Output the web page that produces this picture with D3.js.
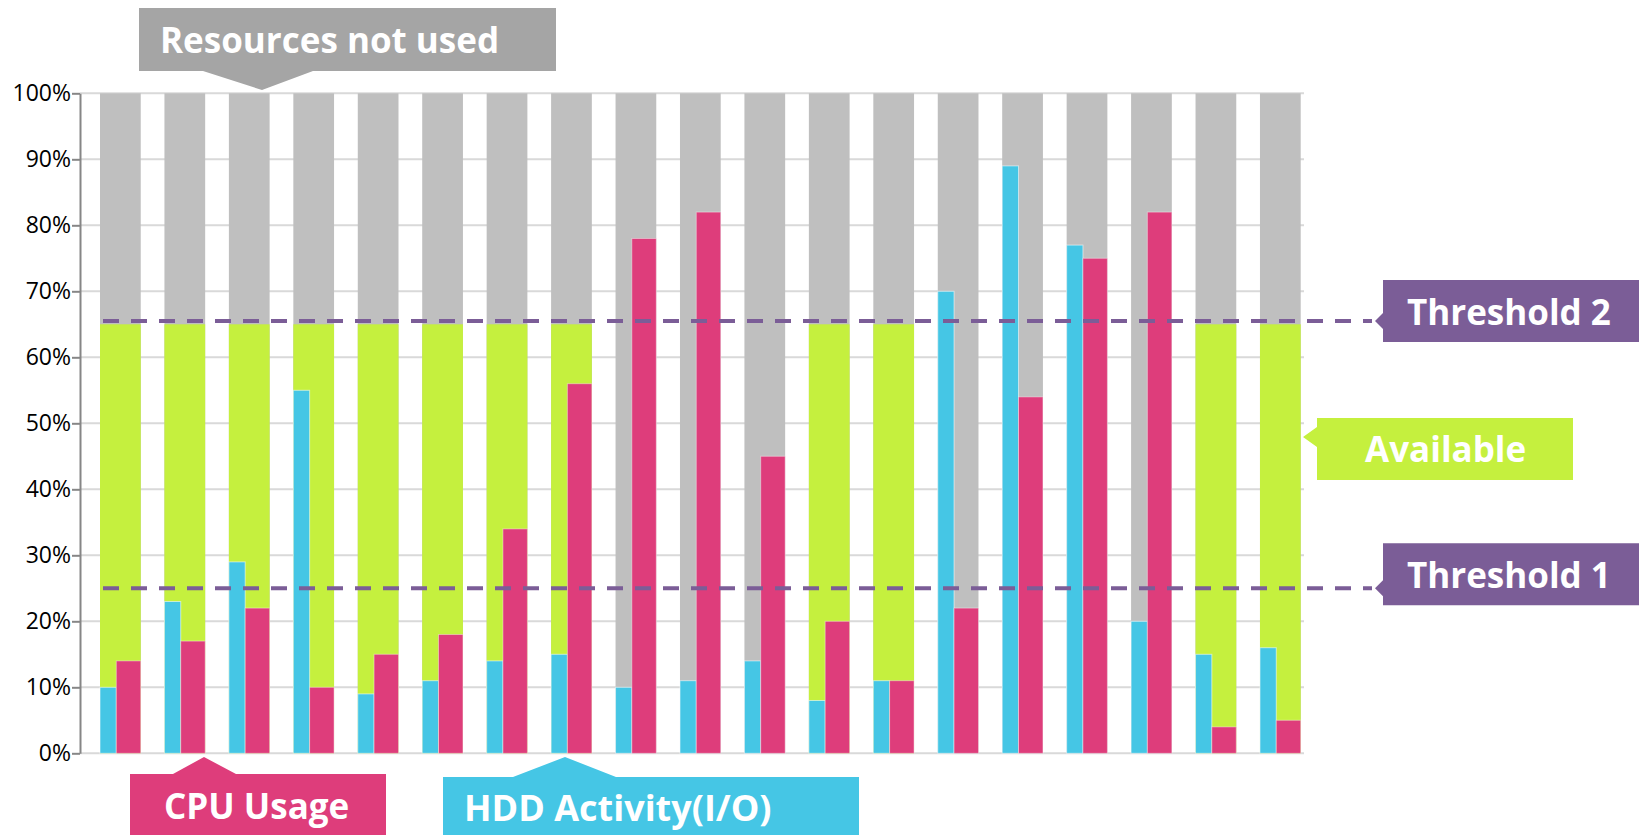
<!DOCTYPE html>
<html>
<head>
<meta charset="utf-8">
<script src="https://cdn.jsdelivr.net/npm/d3@7/dist/d3.min.js"></script>
<style>
  html, body { margin: 0; padding: 0; background: #ffffff; }
  svg { display: block; }
  .tick text { font-family: "Open Sans", sans-serif; }
</style>
</head>
<body>
<div id="chart"></div>
<script>
// ---------- DATA ----------
const categories = ["1","2","3","4","5","6","7","8","9","10","11","12","13","14","15","16","17","18","19"];
const hddActivity = [10, 23, 29, 55, 9, 11, 14, 15, 10, 11, 14, 8, 11, 70, 89, 77, 20, 15, 16];
const cpuUsage    = [14, 17, 22, 10, 15, 18, 34, 56, 78, 82, 45, 20, 11, 22, 54, 75, 82, 4, 5];
const availableFlag = [1, 1, 1, 1, 1, 1, 1, 1, 0, 0, 0, 1, 1, 0, 0, 0, 0, 1, 1];
const availableLevel = 65;
const thresholdValues = [25, 65.5];
const thresholdLabels = ["Threshold 1", "Threshold 2"];
const yTickValues = [0, 10, 20, 30, 40, 50, 60, 70, 80, 90, 100];

// ---------- STYLE ----------
const W = 1639, H = 835;
const C = {
  gray: "#bfbfbf", green: "#c5f03e", blue: "#45c6e5", pink: "#de3d7b",
  purple: "#7b5d97", callGray: "#a5a5a5", grid: "#d9d9d9", axis: "#868686"
};
const FONT = "'Open Sans', sans-serif";

const svg = d3.select("#chart").append("svg").attr("width", W).attr("height", H);

const y = d3.scaleLinear().domain([0, 100]).range([753.3, 93.3]);
const x = d3.scaleBand().domain(categories).range([100, 1300.7]).paddingInner(0.368).paddingOuter(0);
const bw = x.bandwidth();
const blueW = bw * 0.4;

// gridlines
svg.append("g").selectAll("line").data(yTickValues).join("line")
  .attr("x1", 80).attr("x2", 1304)
  .attr("y1", d => y(d)).attr("y2", d => y(d))
  .attr("stroke", C.grid).attr("stroke-width", 2);

// groups
const g = svg.append("g").selectAll("g").data(categories).join("g")
  .attr("transform", d => `translate(${x(d)},0)`);

// background (resources not used)
g.append("rect")
  .attr("x", 0).attr("width", bw)
  .attr("y", y(100)).attr("height", y(0) - y(100))
  .attr("fill", C.gray);

// available region
g.filter((d, i) => availableFlag[i] === 1).append("rect")
  .attr("x", 0).attr("width", bw)
  .attr("y", y(availableLevel)).attr("height", y(0) - y(availableLevel))
  .attr("fill", C.green);

// HDD bars
g.append("rect")
  .attr("x", 0).attr("width", blueW)
  .attr("y", (d, i) => y(hddActivity[i]))
  .attr("height", (d, i) => y(0) - y(hddActivity[i]))
  .attr("fill", C.blue)
  .attr("stroke", "rgba(255,255,255,0.55)").attr("stroke-width", 1);

// CPU bars
g.append("rect")
  .attr("x", blueW).attr("width", bw - blueW)
  .attr("y", (d, i) => y(cpuUsage[i]))
  .attr("height", (d, i) => y(0) - y(cpuUsage[i]))
  .attr("fill", C.pink)
  .attr("stroke", "rgba(255,255,255,0.4)").attr("stroke-width", 1);

// y axis
const yAxis = d3.axisLeft(y).tickValues(yTickValues).tickFormat(d => d + "%")
  .tickSize(8).tickSizeOuter(0).tickPadding(1);
const ax = svg.append("g").attr("transform", "translate(80,0)").call(yAxis);
ax.select(".domain").attr("stroke", C.axis).attr("stroke-width", 2);
ax.selectAll(".tick line").attr("stroke", C.axis).attr("stroke-width", 2);
ax.selectAll(".tick text").attr("font-size", 23).attr("fill", "#000").attr("font-family", FONT);

// threshold lines
svg.append("g").selectAll("line").data(thresholdValues).join("line")
  .attr("x1", 103).attr("x2", 1372)
  .attr("y1", d => y(d)).attr("y2", d => y(d))
  .attr("stroke", C.purple).attr("stroke-width", 4)
  .attr("stroke-dasharray", "16 12");

// ---------- CALLOUTS ----------
function label(txt, xx, yy, size) {
  svg.append("text").attr("x", xx).attr("y", yy)
    .attr("font-family", FONT).attr("font-weight", 700)
    .attr("font-size", size || 35).attr("fill", "#ffffff").text(txt);
}

// Resources not used
svg.append("path")
  .attr("d", "M139,8 H556 V71 H313 L262,90 L203,71 H139 Z")
  .attr("fill", C.callGray);
label("Resources not used", 160, 53);

// CPU Usage
svg.append("path")
  .attr("d", "M130,774 H173 L204,757 L236,774 H386 V835 H130 Z")
  .attr("fill", C.pink);
label("CPU Usage", 164, 819);

// HDD Activity
svg.append("path")
  .attr("d", "M443,777 H513 L565,757 L616,777 H859 V835 H443 Z")
  .attr("fill", C.blue);
label("HDD Activity(I/O)", 464, 821, 36);

// Threshold labels
thresholdValues.forEach((t, i) => {
  const ty = y(t);
  const top = ty - (i === 0 ? 45 : 41);
  const bot = top + 62;
  svg.append("path")
    .attr("d", `M1383,${top} H1639 V${bot} H1383 V${ty + 8} L1375,${ty} L1383,${ty - 8} Z`)
    .attr("fill", C.purple);
  label(thresholdLabels[i], 1407, top + 45);
});

// Available
svg.append("path")
  .attr("d", "M1317,418 H1573 V480 H1317 V447 L1303,437 L1317,427 Z")
  .attr("fill", C.green);
label("Available", 1365, 462);
</script>
</body>
</html>
